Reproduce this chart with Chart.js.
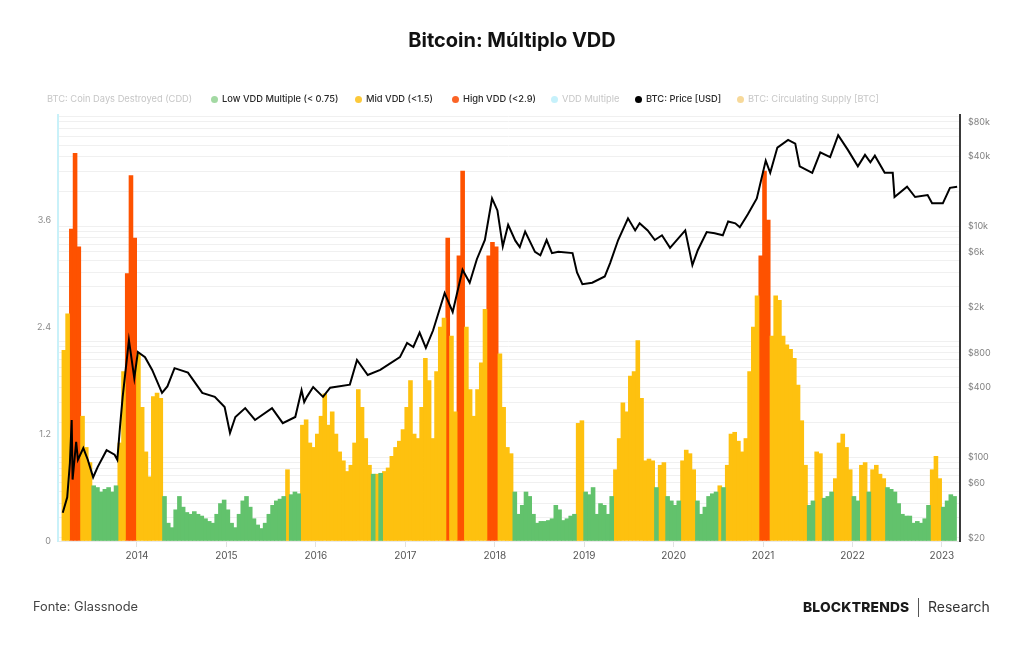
<!DOCTYPE html>
<html>
<head>
<meta charset="utf-8">
<script src="https://cdn.jsdelivr.net/npm/chart.js@4.4.1/dist/chart.umd.min.js"></script>
<style>
  html, body { margin: 0; padding: 0; background: #fff; }
  #wrap { position: relative; width: 1024px; height: 645px; overflow: hidden; font-family: Inter, "Noto Sans", sans-serif; }
  #c { position: absolute; left: 0; top: 0; }
  #title { position: absolute; left: 0; width: 1024px; top: 27px; text-align: center; font-size: 20px; font-weight: 700; color: #111; line-height: 26px; }
  .lg { position: absolute; top: 93px; font-size: 9.3px; line-height: 12px; font-weight: 500; color: #2a2a2a; white-space: nowrap; }
  .lg.off { color: #c6c6c6; font-weight: 400; }
  .dot { position: absolute; top: 96px; width: 7px; height: 7px; border-radius: 50%; margin-left: -3.5px; }
  #src { position: absolute; left: 33px; top: 599px; font-size: 12.8px; color: #444; line-height: 16px; }
  #brand { position: absolute; left: 803px; top: 598px; font-size: 13.8px; font-weight: 800; color: #1a1a1a; line-height: 18px; letter-spacing: 0.2px; }
  #sep { position: absolute; left: 918px; top: 598px; width: 1px; height: 19px; background: #555; }
  #res { position: absolute; left: 928px; top: 598px; font-size: 14px; color: #333; line-height: 18px; }
</style>
</head>
<body>
<div id="wrap">
  <canvas id="c" width="1024" height="645"></canvas>
  <div id="title">Bitcoin: Múltiplo VDD</div>
  <div id="legend"></div>
  <div id="src">Fonte: Glassnode</div>
  <div id="brand">BLOCKTRENDS</div>
  <div id="sep"></div>
  <div id="res">Research</div>
</div>
<script>
// ---------- DATA ----------
const yearTicks = [2014, 2015, 2016, 2017, 2018, 2019, 2020, 2021, 2022, 2023];
const vddTickLabels = [0, 1.2, 2.4, 3.6];
const priceTickLabels = [20, 60, 100, 400, 800, 2000, 6000, 10000, 40000, 80000];
const priceGridValues = [20, 30, 40, 50, 60, 70, 80, 90, 100, 200, 300, 400, 500, 600, 700, 800, 900,
  1000, 2000, 3000, 4000, 5000, 6000, 7000, 8000, 9000, 10000, 20000, 30000, 40000, 50000, 60000, 70000, 80000, 90000];

// VDD multiple, semi-monthly samples starting March 2013
const vddStart = 2013.162;
const vddStep = 1 / 24;
const vddValues = [
  2.14, 2.55, 3.5, 4.35, 3.3, 1.4, 1.05, 0.88,
  0.62, 0.6, 0.55, 0.58, 0.6, 0.55, 0.62,
  1.1, 1.9, 3.0, 4.1, 3.4,
  2.1, 1.5, 1.0, 0.72, 1.62, 1.66, 1.6,
  0.5, 0.2, 0.15, 0.35, 0.5, 0.38, 0.32, 0.3, 0.33, 0.3, 0.28, 0.25, 0.22, 0.2, 0.3, 0.42, 0.46, 0.35,
  0.2, 0.15, 0.3, 0.45, 0.5, 0.38, 0.25, 0.18, 0.14, 0.2, 0.3, 0.4, 0.45, 0.47, 0.5,
  0.8, 0.52, 0.55, 0.53,
  1.3, 1.36, 1.1, 1.05, 1.2, 1.4, 1.65, 1.3, 1.45, 1.2, 1.0, 0.9, 0.78, 0.85, 1.1, 1.7, 1.5, 1.15, 0.85,
  0.75, 0.75, 0.76,
  0.78, 0.82, 0.95, 1.05, 1.12, 1.25, 1.5, 1.8, 1.2, 1.15, 1.5, 2.05, 1.8, 1.15, 1.9, 2.4, 2.5,
  3.4, 2.3, 1.45, 3.2, 4.15, 2.4,
  1.7, 1.4, 1.7, 2.0, 2.6,
  3.2, 3.35, 3.3,
  2.1, 1.5, 1.05, 0.98,
  0.55, 0.3, 0.4, 0.55, 0.5, 0.3, 0.2, 0.22, 0.22, 0.23, 0.25, 0.4, 0.35, 0.23, 0.25, 0.28, 0.3,
  1.32, 1.35,
  0.55, 0.52, 0.6, 0.3, 0.42, 0.4, 0.3, 0.5,
  0.8, 1.15, 1.55, 1.45, 1.85, 1.9, 2.25, 1.6, 0.9, 0.92, 0.9,
  0.6, 0.85, 0.88,
  0.5, 0.45, 0.4, 0.45,
  0.9, 1.02, 0.98, 0.8,
  0.45, 0.3, 0.38, 0.5, 0.53, 0.55,
  0.62, 0.6,
  0.85, 1.2, 1.22, 1.12, 1.0, 1.15, 1.9, 2.4, 2.75,
  3.2, 4.15, 3.6,
  2.3, 2.75, 2.7, 2.3, 2.2, 2.15, 2.05, 1.75, 1.35, 0.85,
  0.4, 0.45, 1.0, 0.98, 0.48, 0.5, 0.55,
  0.7, 1.1, 1.2, 1.05, 0.8,
  0.5, 0.45, 0.85, 0.88, 0.55,
  0.8, 0.85, 0.75, 0.7,
  0.6, 0.58, 0.55, 0.42, 0.3, 0.28, 0.28, 0.2, 0.22, 0.2, 0.25, 0.4,
  0.8, 0.95, 0.7,
  0.38, 0.45, 0.52, 0.5
];
// zone of each sample: L = low (<0.75), M = mid (<1.5), H = high (<2.9)
const vddZones = ("MM HHH MMM LLLLLLL MM HHH MMMMMMM LLLLLLLLLL LLLLLLLLLL LLLLLLLLLL LLL M LLL " +
  "MMMMMMMMMM MMMMMMMMM L M L MMMMMMMMMM MMMMMMM H MM HH MMMMMM HHH MMMM " +
  "LLLLLLLLLL LLLLLLL MM LLLLLLLL MMMMMMMMMM M L MM LLLL MMMM LLLLLL M L " +
  "MMMMMMMMM HHH MMMMMMMMMM LL MM LLL MMMMM LL MM L MMMM LLLLLLLLLL LL MMM LLLL").replace(/ /g, '').split('');

// BTC price [USD]
const priceDates = [
  2013.17, 2013.22, 2013.25, 2013.27, 2013.28, 2013.32, 2013.34, 2013.40, 2013.45, 2013.51, 2013.56,
  2013.66, 2013.75, 2013.78, 2013.81, 2013.84, 2013.91, 2013.97, 2014.01, 2014.09, 2014.17, 2014.28,
  2014.34, 2014.42, 2014.57, 2014.73, 2014.87, 2014.98, 2015.04, 2015.10, 2015.21, 2015.32, 2015.51,
  2015.63, 2015.77, 2015.84, 2015.87, 2015.90, 2015.97, 2016.08, 2016.16, 2016.38, 2016.46, 2016.58,
  2016.72, 2016.94, 2017.02, 2017.09, 2017.16, 2017.23, 2017.31, 2017.44, 2017.53, 2017.64, 2017.72,
  2017.80, 2017.89, 2017.97, 2018.03, 2018.09, 2018.15, 2018.23, 2018.28, 2018.34, 2018.45, 2018.51,
  2018.58, 2018.64, 2018.71, 2018.87, 2018.92, 2018.98, 2019.09, 2019.23, 2019.29, 2019.38, 2019.49,
  2019.57, 2019.62, 2019.71, 2019.79, 2019.87, 2019.96, 2020.13, 2020.21, 2020.27, 2020.37, 2020.46,
  2020.55, 2020.61, 2020.69, 2020.74, 2020.83, 2020.93, 2021.03, 2021.08, 2021.16, 2021.28, 2021.36,
  2021.41, 2021.55, 2021.64, 2021.75, 2021.84, 2021.95, 2022.06, 2022.14, 2022.20, 2022.25, 2022.36,
  2022.45, 2022.47, 2022.61, 2022.70, 2022.84, 2022.89, 2023.01, 2023.09, 2023.17
];
const priceValues = [
  33, 45, 89, 210, 64, 136, 95, 120, 95, 67, 82,
  115, 105, 95, 182, 333, 1030, 483, 815, 735, 570, 360,
  410, 590, 540, 360, 333, 272, 162, 223, 266, 210, 266,
  197, 223, 380, 300, 333, 405, 333, 400, 425, 695, 515,
  570, 735, 975, 900, 1200, 885, 1250, 2640, 1810, 4200, 3240,
  5180, 7600, 17400, 13700, 6700, 10300, 7500, 6600, 9000, 6000, 5600,
  7600, 5850, 6000, 5850, 3980, 3150, 3240, 3670, 4800, 7600, 11700,
  9200, 10600, 9200, 7600, 8350, 6500, 9200, 4600, 6200, 8900, 8700,
  8350, 11000, 10600, 9800, 12700, 17400, 37000, 29000, 48000, 56000, 52000,
  33000, 29000, 43700, 39700, 61500, 45600, 33000, 41500, 35800, 40800, 29000,
  29000, 17900, 22000, 17900, 18600, 15800, 15800, 21500, 22000
];

// ---------- LEGEND (HTML text) ----------
const legendItems = [
  { text: 'BTC: Coin Days Destroyed (CDD)', off: true, dot: null, x: 47 },
  { text: 'Low VDD Multiple (< 0.75)', off: false, dot: '#a3d9a3', x: 214 },
  { text: 'Mid VDD (<1.5)', off: false, dot: '#fcc93a', x: 358 },
  { text: 'High VDD (<2.9)', off: false, dot: '#fb6426', x: 455 },
  { text: 'VDD Multiple', off: true, dot: '#c6f1fb', x: 554 },
  { text: 'BTC: Price [USD]', off: false, dot: '#000000', x: 638 },
  { text: 'BTC: Circulating Supply [BTC]', off: true, dot: '#f7d99a', x: 740 }
];
const lg = document.getElementById('legend');
legendItems.forEach(it => {
  if (it.dot) {
    const d = document.createElement('div');
    d.className = 'dot';
    d.style.left = it.x + 'px';
    d.style.background = it.dot;
    lg.appendChild(d);
  }
  const t = document.createElement('div');
  t.className = 'lg' + (it.off ? ' off' : '');
  t.style.left = (it.dot ? it.x + 8 : it.x) + 'px';
  t.textContent = it.text;
  lg.appendChild(t);
});

// ---------- CHART ----------
function zoneData(z) {
  return vddValues.map((v, i) => ({ x: vddStart + (i + 0.5) * vddStep, y: vddZones[i] === z ? v : null }));
}
const priceData = priceDates.map((d, i) => ({ x: d, y: priceValues[i] }));

const barCommon = { type: 'bar', yAxisID: 'yVdd', grouped: false, barThickness: 3.95, borderWidth: 0, order: 2 };

new Chart(document.getElementById('c'), {
  type: 'bar',
  data: {
    datasets: [
      Object.assign({ label: 'Low VDD Multiple (< 0.75)', data: zoneData('L'), backgroundColor: '#62c26c' }, barCommon),
      Object.assign({ label: 'Mid VDD (<1.5)', data: zoneData('M'), backgroundColor: '#fec10f' }, barCommon),
      Object.assign({ label: 'High VDD (<2.9)', data: zoneData('H'), backgroundColor: '#fe5200' }, barCommon),
      { type: 'line', label: 'BTC: Price [USD]', data: priceData, yAxisID: 'yPrice', borderColor: '#000', borderWidth: 2,
        pointRadius: 0, tension: 0, fill: false, order: 0 }
    ]
  },
  options: {
    responsive: false,
    animation: false,
    layout: { padding: { top: 115, left: 0, right: 0, bottom: 0 } },
    plugins: { legend: { display: false }, title: { display: false }, tooltip: { enabled: false } },
    scales: {
      x: {
        type: 'linear', min: 2013.117, max: 2023.202, offset: false,
        afterBuildTicks: s => { s.ticks = yearTicks.map(v => ({ value: v })); },
        afterFit: s => { s.height = 104; },
        ticks: { autoSkip: false, maxRotation: 0, padding: 3, color: '#555', font: { family: 'Inter', size: 10 }, callback: v => String(v) },
        grid: { offset: false, drawOnChartArea: false, drawTicks: true, tickLength: 6, color: '#e2e2e2' },
        border: { display: true, color: '#e9e9e9', width: 1 }
      },
      yVdd: {
        type: 'linear', position: 'left', min: 0, max: 4.78,
        afterBuildTicks: s => { s.ticks = vddTickLabels.map(v => ({ value: v })); },
        afterFit: s => { s.width = 58; },
        ticks: { autoSkip: false, padding: 7, color: '#8a8a8a', font: { family: 'Inter', size: 9 }, callback: v => String(v) },
        grid: { display: true, drawOnChartArea: false, drawTicks: false },
        border: { display: true, color: '#c9f1f9', width: 2 }
      },
      yPrice: {
        type: 'logarithmic', position: 'right', min: 18.8, max: 91900,
        afterBuildTicks: s => { s.ticks = priceGridValues.map(v => ({ value: v })); },
        afterFit: s => { s.width = 64; },
        ticks: {
          autoSkip: false, padding: 8, color: '#808080', font: { family: 'Inter', size: 9 },
          callback: v => priceTickLabels.includes(v) ? (v >= 1000 ? '$' + (v / 1000) + 'k' : '$' + v) : ''
        },
        grid: { display: true, drawOnChartArea: true, drawTicks: false, color: '#f0f0f0', lineWidth: 1 },
        border: { display: true, color: '#3a3a3a', width: 2 }
      }
    }
  }
});
</script>
</body>
</html>
